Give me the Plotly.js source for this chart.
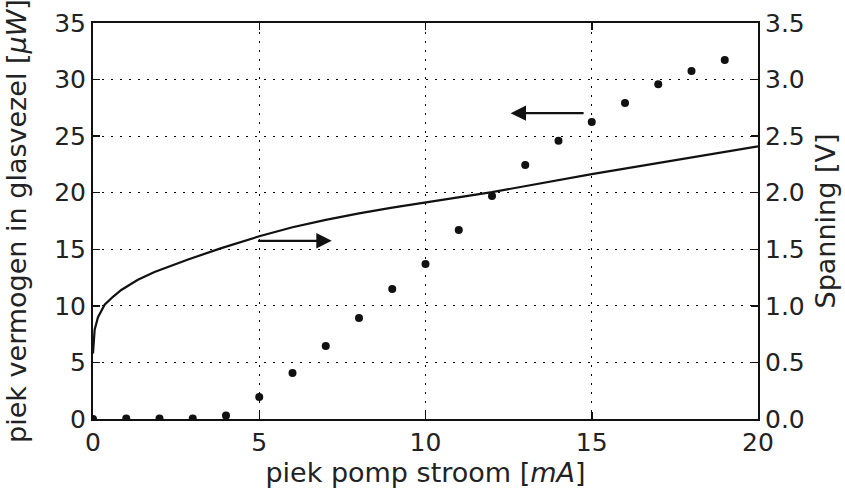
<!DOCTYPE html>
<html>
<head>
<meta charset="utf-8">
<script src="https://cdn.plot.ly/plotly-3.0.1.min.js"></script>
<style>html,body{margin:0;padding:0;background:#fff;}#chart{width:845px;height:492px;}</style>
</head>
<body>
<div id="chart"></div>
<script>
// Measured peak power (left axis, µW) vs pump current (mA)
const currentPts = [0,1,2,3,4,5,6,7,8,9,10,11,12,13,14,15,16,17,18,19];
const powerPts = [0,0.05,0.05,0.05,0.3,1.95,4.07,6.45,8.93,11.5,13.7,16.7,19.7,22.45,24.6,26.25,27.94,29.58,30.75,31.74];
// Voltage curve (right axis, V) vs pump current (mA)
const currentLine = [0,0.05,0.15,0.35,0.6,0.85,1.35,1.85,2.86,3.86,5,6,7,8,9,10,12,15,17.5,20];
const voltageLine = [0.58,0.79,0.90,1.01,1.08,1.14,1.23,1.30,1.41,1.51,1.615,1.695,1.76,1.818,1.868,1.915,2.005,2.165,2.29,2.41];
// Arrows (tail x, head x, y on left axis)
const arrowRight = {x0:4.92, x1:7.18, y:15.75};
const arrowLeft = {x0:14.8, x1:12.56, y:27.03};

const FONT = 'DejaVu Sans, sans-serif';
const FS = 25;
const TFS = 27;
const grid = {gridcolor:'#000', gridwidth:1, griddash:'2px,7px'};

const traces = [
  {x:currentPts, y:powerPts, type:'scatter', mode:'markers', xaxis:'x', yaxis:'y',
   marker:{color:'#111', size:8}, cliponaxis:true, showlegend:false},
  {x:currentLine, y:voltageLine, type:'scatter', mode:'lines', xaxis:'x', yaxis:'y2',
   line:{color:'#111', width:2.2}, showlegend:false}
];

const layout = {
  width:845, height:492,
  margin:{l:93, r:87, t:23, b:73},
  paper_bgcolor:'#fff', plot_bgcolor:'#fff',
  font:{family:FONT, size:FS, color:'#222'},
  xaxis:Object.assign({range:[0,20], dtick:5, tick0:0, showgrid:true, zeroline:false, automargin:false,
    showline:true, linecolor:'#111', linewidth:2, mirror:'ticks', ticks:'inside', ticklen:7, tickcolor:'#111', tickwidth:1.5,
    title:{text:'piek pomp stroom [<i>mA</i>]', font:{family:FONT, size:TFS}, standoff:0},
    tickfont:{family:FONT, size:FS}}, grid),
  yaxis:Object.assign({range:[0,35], dtick:5, tick0:0, showgrid:true, zeroline:false, automargin:false,
    showline:true, linecolor:'#111', linewidth:2, mirror:true, ticks:'inside', ticklen:7, tickcolor:'#111', tickwidth:1.5,
    title:{text:'piek vermogen in glasvezel [<i>μW</i>]', font:{family:FONT, size:TFS}, standoff:20},
    tickfont:{family:FONT, size:FS}}, grid),
  yaxis2:{range:[0,3.5], dtick:0.5, tick0:0, tickformat:'.1f', overlaying:'y', side:'right', automargin:false,
    showgrid:false, zeroline:false, showline:true, linecolor:'#111', linewidth:2,
    ticks:'inside', ticklen:7, tickcolor:'#111', tickwidth:1.5,
    title:{text:'Spanning [V]', font:{family:FONT, size:TFS}, standoff:12},
    tickfont:{family:FONT, size:FS}},
  annotations:[
    {x:arrowRight.x1, y:arrowRight.y, ax:arrowRight.x0, ay:arrowRight.y, xref:'x', yref:'y', axref:'x', ayref:'y',
     text:'', showarrow:true, arrowhead:2, arrowsize:1.4, arrowwidth:2.2, arrowcolor:'#111'},
    {x:arrowLeft.x1, y:arrowLeft.y, ax:arrowLeft.x0, ay:arrowLeft.y, xref:'x', yref:'y', axref:'x', ayref:'y',
     text:'', showarrow:true, arrowhead:2, arrowsize:1.4, arrowwidth:2.2, arrowcolor:'#111'}
  ]
};

Plotly.newPlot('chart', traces, layout, {staticPlot:true, displayModeBar:false});
</script>
</body>
</html>
